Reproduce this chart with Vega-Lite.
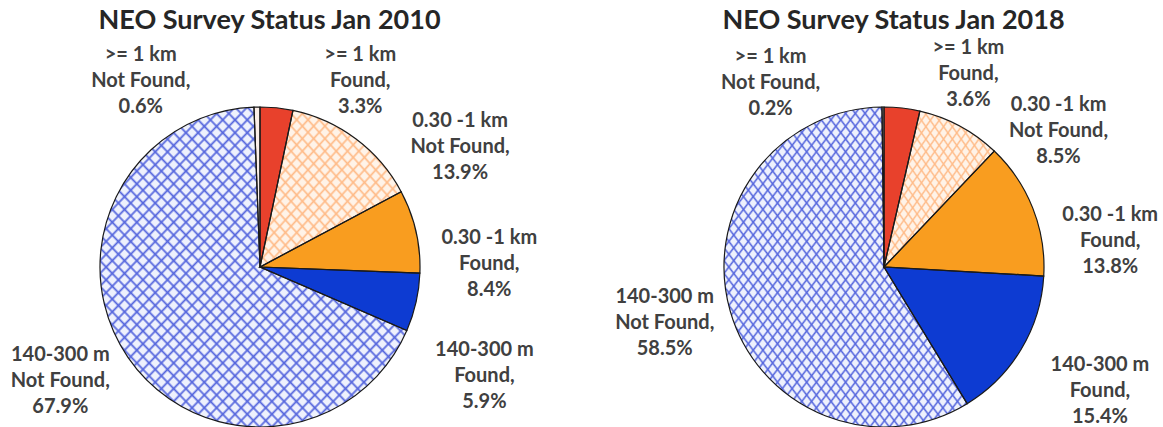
{
  "$schema": "https://vega.github.io/schema/vega-lite/v6.json",
  "width": 1134,
  "height": 462,
  "padding": {"top": 6, "left": 5, "right": 5, "bottom": 5},
  "background": "white",
  "config": {
    "view": {"stroke": null},
    "text": {"font": "Lato", "fontSize": 20, "fontWeight": "bold", "color": "#404040", "lineBreak": "\n", "lineHeight": 26, "align": "center", "baseline": "middle"}
  },
  "data": {
    "values": [
      {"chart": "NEO Survey Status Jan 2010", "year": 2010, "size": ">= 1 km", "status": "Found", "pct": 3.3, "order": 1},
      {"chart": "NEO Survey Status Jan 2010", "year": 2010, "size": "0.30 -1 km", "status": "Not Found", "pct": 13.9, "order": 2},
      {"chart": "NEO Survey Status Jan 2010", "year": 2010, "size": "0.30 -1 km", "status": "Found", "pct": 8.4, "order": 3},
      {"chart": "NEO Survey Status Jan 2010", "year": 2010, "size": "140-300 m", "status": "Found", "pct": 5.9, "order": 4},
      {"chart": "NEO Survey Status Jan 2010", "year": 2010, "size": "140-300 m", "status": "Not Found", "pct": 67.9, "order": 5},
      {"chart": "NEO Survey Status Jan 2010", "year": 2010, "size": ">= 1 km", "status": "Not Found", "pct": 0.6, "order": 6},
      {"chart": "NEO Survey Status Jan 2018", "year": 2018, "size": ">= 1 km", "status": "Found", "pct": 3.6, "order": 1},
      {"chart": "NEO Survey Status Jan 2018", "year": 2018, "size": "0.30 -1 km", "status": "Not Found", "pct": 8.5, "order": 2},
      {"chart": "NEO Survey Status Jan 2018", "year": 2018, "size": "0.30 -1 km", "status": "Found", "pct": 13.8, "order": 3},
      {"chart": "NEO Survey Status Jan 2018", "year": 2018, "size": "140-300 m", "status": "Found", "pct": 15.4, "order": 4},
      {"chart": "NEO Survey Status Jan 2018", "year": 2018, "size": "140-300 m", "status": "Not Found", "pct": 58.5, "order": 5},
      {"chart": "NEO Survey Status Jan 2018", "year": 2018, "size": ">= 1 km", "status": "Not Found", "pct": 0.2, "order": 6}
    ]
  },
  "transform": [
    {"stack": "pct", "groupby": ["year"], "sort": [{"field": "order", "order": "ascending"}], "as": ["start", "end"]},
    {"calculate": "(datum.start + datum.end) / 2", "as": "mid"},
    {"calculate": "datum.size + ' ' + datum.status", "as": "key"},
    {"calculate": "datum.size + '\\n' + datum.status + ',\\n' + format(datum.pct, '.1f') + '%'", "as": "label"}
  ],
  "encoding": {
    "x": {
      "field": "chart", "type": "nominal", "sort": null,
      "scale": {"type": "point", "padding": 0.40865},
      "axis": {"orient": "top", "title": null, "domain": false, "ticks": false, "tickSize": 0, "grid": false, "labelPadding": 2, "labelFontSize": 27, "labelFont": "Lato", "labelFontWeight": "bold", "labelColor": "#262626", "labelAngle": 0, "labelLimit": 1000, "labelOffset": 9}
    }
  },
  "layer": [
    {
      "mark": {"type": "arc", "outerRadius": 160},
      "encoding": {
        "theta": {"field": "start", "type": "quantitative", "stack": null, "scale": {"domain": [0, 100]}},
        "theta2": {"field": "end"},
        "color": {"field": "key", "type": "nominal", "legend": null,
          "scale": {
            "domain": [">= 1 km Found", "0.30 -1 km Not Found", "0.30 -1 km Found", "140-300 m Found", "140-300 m Not Found", ">= 1 km Not Found"],
            "range": ["#e8412c", "#fff3e8", "#f99d1f", "#0d3bd2", "#eef1fd", "#fbeee8"]
          }
        }
      }
    },
    {
      "transform": [{"filter": "datum.key == '140-300 m Not Found'"}],
      "mark": {"type": "arc", "outerRadius": 160, "fill": {"gradient": "linear", "x1": 0, "y1": 0, "x2": 1, "y2": 1, "stops": [
        {"offset":0,"color":"#56d"},{"offset":0.004,"color":"#56d0"},{"offset":0.016,"color":"#56d0"},
        {"offset":0.02,"color":"#56d"},{"offset":0.024,"color":"#56d0"},{"offset":0.036,"color":"#56d0"},
        {"offset":0.04,"color":"#56d"},{"offset":0.044,"color":"#56d0"},{"offset":0.056,"color":"#56d0"},
        {"offset":0.06,"color":"#56d"},{"offset":0.064,"color":"#56d0"},{"offset":0.076,"color":"#56d0"},
        {"offset":0.08,"color":"#56d"},{"offset":0.084,"color":"#56d0"},{"offset":0.096,"color":"#56d0"},
        {"offset":0.1,"color":"#56d"},{"offset":0.104,"color":"#56d0"},{"offset":0.116,"color":"#56d0"},
        {"offset":0.12,"color":"#56d"},{"offset":0.124,"color":"#56d0"},{"offset":0.136,"color":"#56d0"},
        {"offset":0.14,"color":"#56d"},{"offset":0.144,"color":"#56d0"},{"offset":0.156,"color":"#56d0"},
        {"offset":0.16,"color":"#56d"},{"offset":0.164,"color":"#56d0"},{"offset":0.176,"color":"#56d0"},
        {"offset":0.18,"color":"#56d"},{"offset":0.184,"color":"#56d0"},{"offset":0.196,"color":"#56d0"},
        {"offset":0.2,"color":"#56d"},{"offset":0.204,"color":"#56d0"},{"offset":0.216,"color":"#56d0"},
        {"offset":0.22,"color":"#56d"},{"offset":0.224,"color":"#56d0"},{"offset":0.236,"color":"#56d0"},
        {"offset":0.24,"color":"#56d"},{"offset":0.244,"color":"#56d0"},{"offset":0.256,"color":"#56d0"},
        {"offset":0.26,"color":"#56d"},{"offset":0.264,"color":"#56d0"},{"offset":0.276,"color":"#56d0"},
        {"offset":0.28,"color":"#56d"},{"offset":0.284,"color":"#56d0"},{"offset":0.296,"color":"#56d0"},
        {"offset":0.3,"color":"#56d"},{"offset":0.304,"color":"#56d0"},{"offset":0.316,"color":"#56d0"},
        {"offset":0.32,"color":"#56d"},{"offset":0.324,"color":"#56d0"},{"offset":0.336,"color":"#56d0"},
        {"offset":0.34,"color":"#56d"},{"offset":0.344,"color":"#56d0"},{"offset":0.356,"color":"#56d0"},
        {"offset":0.36,"color":"#56d"},{"offset":0.364,"color":"#56d0"},{"offset":0.376,"color":"#56d0"},
        {"offset":0.38,"color":"#56d"},{"offset":0.384,"color":"#56d0"},{"offset":0.396,"color":"#56d0"},
        {"offset":0.4,"color":"#56d"},{"offset":0.404,"color":"#56d0"},{"offset":0.416,"color":"#56d0"},
        {"offset":0.42,"color":"#56d"},{"offset":0.424,"color":"#56d0"},{"offset":0.436,"color":"#56d0"},
        {"offset":0.44,"color":"#56d"},{"offset":0.444,"color":"#56d0"},{"offset":0.456,"color":"#56d0"},
        {"offset":0.46,"color":"#56d"},{"offset":0.464,"color":"#56d0"},{"offset":0.476,"color":"#56d0"},
        {"offset":0.48,"color":"#56d"},{"offset":0.484,"color":"#56d0"},{"offset":0.496,"color":"#56d0"},
        {"offset":0.5,"color":"#56d"},{"offset":0.504,"color":"#56d0"},{"offset":0.516,"color":"#56d0"},
        {"offset":0.52,"color":"#56d"},{"offset":0.524,"color":"#56d0"},{"offset":0.536,"color":"#56d0"},
        {"offset":0.54,"color":"#56d"},{"offset":0.544,"color":"#56d0"},{"offset":0.556,"color":"#56d0"},
        {"offset":0.56,"color":"#56d"},{"offset":0.564,"color":"#56d0"},{"offset":0.576,"color":"#56d0"},
        {"offset":0.58,"color":"#56d"},{"offset":0.584,"color":"#56d0"},{"offset":0.596,"color":"#56d0"},
        {"offset":0.6,"color":"#56d"},{"offset":0.604,"color":"#56d0"},{"offset":0.616,"color":"#56d0"},
        {"offset":0.62,"color":"#56d"},{"offset":0.624,"color":"#56d0"},{"offset":0.636,"color":"#56d0"},
        {"offset":0.64,"color":"#56d"},{"offset":0.644,"color":"#56d0"},{"offset":0.656,"color":"#56d0"},
        {"offset":0.66,"color":"#56d"},{"offset":0.664,"color":"#56d0"},{"offset":0.676,"color":"#56d0"},
        {"offset":0.68,"color":"#56d"},{"offset":0.684,"color":"#56d0"},{"offset":0.696,"color":"#56d0"},
        {"offset":0.7,"color":"#56d"},{"offset":0.704,"color":"#56d0"},{"offset":0.716,"color":"#56d0"},
        {"offset":0.72,"color":"#56d"},{"offset":0.724,"color":"#56d0"},{"offset":0.736,"color":"#56d0"},
        {"offset":0.74,"color":"#56d"},{"offset":0.744,"color":"#56d0"},{"offset":0.756,"color":"#56d0"},
        {"offset":0.76,"color":"#56d"},{"offset":0.764,"color":"#56d0"},{"offset":0.776,"color":"#56d0"},
        {"offset":0.78,"color":"#56d"},{"offset":0.784,"color":"#56d0"},{"offset":0.796,"color":"#56d0"},
        {"offset":0.8,"color":"#56d"},{"offset":0.804,"color":"#56d0"},{"offset":0.816,"color":"#56d0"},
        {"offset":0.82,"color":"#56d"},{"offset":0.824,"color":"#56d0"},{"offset":0.836,"color":"#56d0"},
        {"offset":0.84,"color":"#56d"},{"offset":0.844,"color":"#56d0"},{"offset":0.856,"color":"#56d0"},
        {"offset":0.86,"color":"#56d"},{"offset":0.864,"color":"#56d0"},{"offset":0.876,"color":"#56d0"},
        {"offset":0.88,"color":"#56d"},{"offset":0.884,"color":"#56d0"},{"offset":0.896,"color":"#56d0"},
        {"offset":0.9,"color":"#56d"},{"offset":0.904,"color":"#56d0"},{"offset":0.916,"color":"#56d0"},
        {"offset":0.92,"color":"#56d"},{"offset":0.924,"color":"#56d0"},{"offset":0.936,"color":"#56d0"},
        {"offset":0.94,"color":"#56d"},{"offset":0.944,"color":"#56d0"},{"offset":0.956,"color":"#56d0"},
        {"offset":0.96,"color":"#56d"},{"offset":0.964,"color":"#56d0"},{"offset":0.976,"color":"#56d0"},
        {"offset":0.98,"color":"#56d"},{"offset":0.984,"color":"#56d0"},{"offset":0.996,"color":"#56d0"},
        {"offset":1,"color":"#56d"}]}},
      "encoding": {
        "theta": {"field": "start", "type": "quantitative", "stack": null, "scale": {"domain": [0, 100]}},
        "theta2": {"field": "end"}
      }
    },
    {
      "transform": [{"filter": "datum.key == '140-300 m Not Found'"}],
      "mark": {"type": "arc", "outerRadius": 160, "fill": {"gradient": "linear", "x1": 1, "y1": 0, "x2": 0, "y2": 1, "stops": [
        {"offset":0,"color":"#56d"},{"offset":0.004,"color":"#56d0"},{"offset":0.016,"color":"#56d0"},
        {"offset":0.02,"color":"#56d"},{"offset":0.024,"color":"#56d0"},{"offset":0.036,"color":"#56d0"},
        {"offset":0.04,"color":"#56d"},{"offset":0.044,"color":"#56d0"},{"offset":0.056,"color":"#56d0"},
        {"offset":0.06,"color":"#56d"},{"offset":0.064,"color":"#56d0"},{"offset":0.076,"color":"#56d0"},
        {"offset":0.08,"color":"#56d"},{"offset":0.084,"color":"#56d0"},{"offset":0.096,"color":"#56d0"},
        {"offset":0.1,"color":"#56d"},{"offset":0.104,"color":"#56d0"},{"offset":0.116,"color":"#56d0"},
        {"offset":0.12,"color":"#56d"},{"offset":0.124,"color":"#56d0"},{"offset":0.136,"color":"#56d0"},
        {"offset":0.14,"color":"#56d"},{"offset":0.144,"color":"#56d0"},{"offset":0.156,"color":"#56d0"},
        {"offset":0.16,"color":"#56d"},{"offset":0.164,"color":"#56d0"},{"offset":0.176,"color":"#56d0"},
        {"offset":0.18,"color":"#56d"},{"offset":0.184,"color":"#56d0"},{"offset":0.196,"color":"#56d0"},
        {"offset":0.2,"color":"#56d"},{"offset":0.204,"color":"#56d0"},{"offset":0.216,"color":"#56d0"},
        {"offset":0.22,"color":"#56d"},{"offset":0.224,"color":"#56d0"},{"offset":0.236,"color":"#56d0"},
        {"offset":0.24,"color":"#56d"},{"offset":0.244,"color":"#56d0"},{"offset":0.256,"color":"#56d0"},
        {"offset":0.26,"color":"#56d"},{"offset":0.264,"color":"#56d0"},{"offset":0.276,"color":"#56d0"},
        {"offset":0.28,"color":"#56d"},{"offset":0.284,"color":"#56d0"},{"offset":0.296,"color":"#56d0"},
        {"offset":0.3,"color":"#56d"},{"offset":0.304,"color":"#56d0"},{"offset":0.316,"color":"#56d0"},
        {"offset":0.32,"color":"#56d"},{"offset":0.324,"color":"#56d0"},{"offset":0.336,"color":"#56d0"},
        {"offset":0.34,"color":"#56d"},{"offset":0.344,"color":"#56d0"},{"offset":0.356,"color":"#56d0"},
        {"offset":0.36,"color":"#56d"},{"offset":0.364,"color":"#56d0"},{"offset":0.376,"color":"#56d0"},
        {"offset":0.38,"color":"#56d"},{"offset":0.384,"color":"#56d0"},{"offset":0.396,"color":"#56d0"},
        {"offset":0.4,"color":"#56d"},{"offset":0.404,"color":"#56d0"},{"offset":0.416,"color":"#56d0"},
        {"offset":0.42,"color":"#56d"},{"offset":0.424,"color":"#56d0"},{"offset":0.436,"color":"#56d0"},
        {"offset":0.44,"color":"#56d"},{"offset":0.444,"color":"#56d0"},{"offset":0.456,"color":"#56d0"},
        {"offset":0.46,"color":"#56d"},{"offset":0.464,"color":"#56d0"},{"offset":0.476,"color":"#56d0"},
        {"offset":0.48,"color":"#56d"},{"offset":0.484,"color":"#56d0"},{"offset":0.496,"color":"#56d0"},
        {"offset":0.5,"color":"#56d"},{"offset":0.504,"color":"#56d0"},{"offset":0.516,"color":"#56d0"},
        {"offset":0.52,"color":"#56d"},{"offset":0.524,"color":"#56d0"},{"offset":0.536,"color":"#56d0"},
        {"offset":0.54,"color":"#56d"},{"offset":0.544,"color":"#56d0"},{"offset":0.556,"color":"#56d0"},
        {"offset":0.56,"color":"#56d"},{"offset":0.564,"color":"#56d0"},{"offset":0.576,"color":"#56d0"},
        {"offset":0.58,"color":"#56d"},{"offset":0.584,"color":"#56d0"},{"offset":0.596,"color":"#56d0"},
        {"offset":0.6,"color":"#56d"},{"offset":0.604,"color":"#56d0"},{"offset":0.616,"color":"#56d0"},
        {"offset":0.62,"color":"#56d"},{"offset":0.624,"color":"#56d0"},{"offset":0.636,"color":"#56d0"},
        {"offset":0.64,"color":"#56d"},{"offset":0.644,"color":"#56d0"},{"offset":0.656,"color":"#56d0"},
        {"offset":0.66,"color":"#56d"},{"offset":0.664,"color":"#56d0"},{"offset":0.676,"color":"#56d0"},
        {"offset":0.68,"color":"#56d"},{"offset":0.684,"color":"#56d0"},{"offset":0.696,"color":"#56d0"},
        {"offset":0.7,"color":"#56d"},{"offset":0.704,"color":"#56d0"},{"offset":0.716,"color":"#56d0"},
        {"offset":0.72,"color":"#56d"},{"offset":0.724,"color":"#56d0"},{"offset":0.736,"color":"#56d0"},
        {"offset":0.74,"color":"#56d"},{"offset":0.744,"color":"#56d0"},{"offset":0.756,"color":"#56d0"},
        {"offset":0.76,"color":"#56d"},{"offset":0.764,"color":"#56d0"},{"offset":0.776,"color":"#56d0"},
        {"offset":0.78,"color":"#56d"},{"offset":0.784,"color":"#56d0"},{"offset":0.796,"color":"#56d0"},
        {"offset":0.8,"color":"#56d"},{"offset":0.804,"color":"#56d0"},{"offset":0.816,"color":"#56d0"},
        {"offset":0.82,"color":"#56d"},{"offset":0.824,"color":"#56d0"},{"offset":0.836,"color":"#56d0"},
        {"offset":0.84,"color":"#56d"},{"offset":0.844,"color":"#56d0"},{"offset":0.856,"color":"#56d0"},
        {"offset":0.86,"color":"#56d"},{"offset":0.864,"color":"#56d0"},{"offset":0.876,"color":"#56d0"},
        {"offset":0.88,"color":"#56d"},{"offset":0.884,"color":"#56d0"},{"offset":0.896,"color":"#56d0"},
        {"offset":0.9,"color":"#56d"},{"offset":0.904,"color":"#56d0"},{"offset":0.916,"color":"#56d0"},
        {"offset":0.92,"color":"#56d"},{"offset":0.924,"color":"#56d0"},{"offset":0.936,"color":"#56d0"},
        {"offset":0.94,"color":"#56d"},{"offset":0.944,"color":"#56d0"},{"offset":0.956,"color":"#56d0"},
        {"offset":0.96,"color":"#56d"},{"offset":0.964,"color":"#56d0"},{"offset":0.976,"color":"#56d0"},
        {"offset":0.98,"color":"#56d"},{"offset":0.984,"color":"#56d0"},{"offset":0.996,"color":"#56d0"},
        {"offset":1,"color":"#56d"}]}},
      "encoding": {
        "theta": {"field": "start", "type": "quantitative", "stack": null, "scale": {"domain": [0, 100]}},
        "theta2": {"field": "end"}
      }
    },
    {
      "transform": [{"filter": "datum.key == '0.30 -1 km Not Found'"}],
      "mark": {"type": "arc", "outerRadius": 160, "fill": {"gradient": "linear", "x1": 0, "y1": 0, "x2": 1, "y2": 1, "stops": [
        {"offset":0,"color":"#fb8"},{"offset":0.008,"color":"#fb80"},{"offset":0.032,"color":"#fb80"},
        {"offset":0.04,"color":"#fb8"},{"offset":0.048,"color":"#fb80"},{"offset":0.072,"color":"#fb80"},
        {"offset":0.08,"color":"#fb8"},{"offset":0.088,"color":"#fb80"},{"offset":0.112,"color":"#fb80"},
        {"offset":0.12,"color":"#fb8"},{"offset":0.128,"color":"#fb80"},{"offset":0.152,"color":"#fb80"},
        {"offset":0.16,"color":"#fb8"},{"offset":0.168,"color":"#fb80"},{"offset":0.192,"color":"#fb80"},
        {"offset":0.2,"color":"#fb8"},{"offset":0.208,"color":"#fb80"},{"offset":0.232,"color":"#fb80"},
        {"offset":0.24,"color":"#fb8"},{"offset":0.248,"color":"#fb80"},{"offset":0.272,"color":"#fb80"},
        {"offset":0.28,"color":"#fb8"},{"offset":0.288,"color":"#fb80"},{"offset":0.312,"color":"#fb80"},
        {"offset":0.32,"color":"#fb8"},{"offset":0.328,"color":"#fb80"},{"offset":0.352,"color":"#fb80"},
        {"offset":0.36,"color":"#fb8"},{"offset":0.368,"color":"#fb80"},{"offset":0.392,"color":"#fb80"},
        {"offset":0.4,"color":"#fb8"},{"offset":0.408,"color":"#fb80"},{"offset":0.432,"color":"#fb80"},
        {"offset":0.44,"color":"#fb8"},{"offset":0.448,"color":"#fb80"},{"offset":0.472,"color":"#fb80"},
        {"offset":0.48,"color":"#fb8"},{"offset":0.488,"color":"#fb80"},{"offset":0.512,"color":"#fb80"},
        {"offset":0.52,"color":"#fb8"},{"offset":0.528,"color":"#fb80"},{"offset":0.552,"color":"#fb80"},
        {"offset":0.56,"color":"#fb8"},{"offset":0.568,"color":"#fb80"},{"offset":0.592,"color":"#fb80"},
        {"offset":0.6,"color":"#fb8"},{"offset":0.608,"color":"#fb80"},{"offset":0.632,"color":"#fb80"},
        {"offset":0.64,"color":"#fb8"},{"offset":0.648,"color":"#fb80"},{"offset":0.672,"color":"#fb80"},
        {"offset":0.68,"color":"#fb8"},{"offset":0.688,"color":"#fb80"},{"offset":0.712,"color":"#fb80"},
        {"offset":0.72,"color":"#fb8"},{"offset":0.728,"color":"#fb80"},{"offset":0.752,"color":"#fb80"},
        {"offset":0.76,"color":"#fb8"},{"offset":0.768,"color":"#fb80"},{"offset":0.792,"color":"#fb80"},
        {"offset":0.8,"color":"#fb8"},{"offset":0.808,"color":"#fb80"},{"offset":0.832,"color":"#fb80"},
        {"offset":0.84,"color":"#fb8"},{"offset":0.848,"color":"#fb80"},{"offset":0.872,"color":"#fb80"},
        {"offset":0.88,"color":"#fb8"},{"offset":0.888,"color":"#fb80"},{"offset":0.912,"color":"#fb80"},
        {"offset":0.92,"color":"#fb8"},{"offset":0.928,"color":"#fb80"},{"offset":0.952,"color":"#fb80"},
        {"offset":0.96,"color":"#fb8"},{"offset":0.968,"color":"#fb80"},{"offset":0.992,"color":"#fb80"},
        {"offset":1,"color":"#fb8"}]}},
      "encoding": {
        "theta": {"field": "start", "type": "quantitative", "stack": null, "scale": {"domain": [0, 100]}},
        "theta2": {"field": "end"}
      }
    },
    {
      "transform": [{"filter": "datum.key == '0.30 -1 km Not Found'"}],
      "mark": {"type": "arc", "outerRadius": 160, "fill": {"gradient": "linear", "x1": 1, "y1": 0, "x2": 0, "y2": 1, "stops": [
        {"offset":0,"color":"#fb8"},{"offset":0.008,"color":"#fb80"},{"offset":0.032,"color":"#fb80"},
        {"offset":0.04,"color":"#fb8"},{"offset":0.048,"color":"#fb80"},{"offset":0.072,"color":"#fb80"},
        {"offset":0.08,"color":"#fb8"},{"offset":0.088,"color":"#fb80"},{"offset":0.112,"color":"#fb80"},
        {"offset":0.12,"color":"#fb8"},{"offset":0.128,"color":"#fb80"},{"offset":0.152,"color":"#fb80"},
        {"offset":0.16,"color":"#fb8"},{"offset":0.168,"color":"#fb80"},{"offset":0.192,"color":"#fb80"},
        {"offset":0.2,"color":"#fb8"},{"offset":0.208,"color":"#fb80"},{"offset":0.232,"color":"#fb80"},
        {"offset":0.24,"color":"#fb8"},{"offset":0.248,"color":"#fb80"},{"offset":0.272,"color":"#fb80"},
        {"offset":0.28,"color":"#fb8"},{"offset":0.288,"color":"#fb80"},{"offset":0.312,"color":"#fb80"},
        {"offset":0.32,"color":"#fb8"},{"offset":0.328,"color":"#fb80"},{"offset":0.352,"color":"#fb80"},
        {"offset":0.36,"color":"#fb8"},{"offset":0.368,"color":"#fb80"},{"offset":0.392,"color":"#fb80"},
        {"offset":0.4,"color":"#fb8"},{"offset":0.408,"color":"#fb80"},{"offset":0.432,"color":"#fb80"},
        {"offset":0.44,"color":"#fb8"},{"offset":0.448,"color":"#fb80"},{"offset":0.472,"color":"#fb80"},
        {"offset":0.48,"color":"#fb8"},{"offset":0.488,"color":"#fb80"},{"offset":0.512,"color":"#fb80"},
        {"offset":0.52,"color":"#fb8"},{"offset":0.528,"color":"#fb80"},{"offset":0.552,"color":"#fb80"},
        {"offset":0.56,"color":"#fb8"},{"offset":0.568,"color":"#fb80"},{"offset":0.592,"color":"#fb80"},
        {"offset":0.6,"color":"#fb8"},{"offset":0.608,"color":"#fb80"},{"offset":0.632,"color":"#fb80"},
        {"offset":0.64,"color":"#fb8"},{"offset":0.648,"color":"#fb80"},{"offset":0.672,"color":"#fb80"},
        {"offset":0.68,"color":"#fb8"},{"offset":0.688,"color":"#fb80"},{"offset":0.712,"color":"#fb80"},
        {"offset":0.72,"color":"#fb8"},{"offset":0.728,"color":"#fb80"},{"offset":0.752,"color":"#fb80"},
        {"offset":0.76,"color":"#fb8"},{"offset":0.768,"color":"#fb80"},{"offset":0.792,"color":"#fb80"},
        {"offset":0.8,"color":"#fb8"},{"offset":0.808,"color":"#fb80"},{"offset":0.832,"color":"#fb80"},
        {"offset":0.84,"color":"#fb8"},{"offset":0.848,"color":"#fb80"},{"offset":0.872,"color":"#fb80"},
        {"offset":0.88,"color":"#fb8"},{"offset":0.888,"color":"#fb80"},{"offset":0.912,"color":"#fb80"},
        {"offset":0.92,"color":"#fb8"},{"offset":0.928,"color":"#fb80"},{"offset":0.952,"color":"#fb80"},
        {"offset":0.96,"color":"#fb8"},{"offset":0.968,"color":"#fb80"},{"offset":0.992,"color":"#fb80"},
        {"offset":1,"color":"#fb8"}]}},
      "encoding": {
        "theta": {"field": "start", "type": "quantitative", "stack": null, "scale": {"domain": [0, 100]}},
        "theta2": {"field": "end"}
      }
    },
    {
      "mark": {"type": "arc", "outerRadius": 160, "fillOpacity": 0, "stroke": "#1a1a1a", "strokeWidth": 1.2},
      "encoding": {
        "theta": {"field": "start", "type": "quantitative", "stack": null, "scale": {"domain": [0, 100]}},
        "theta2": {"field": "end"}
      }
    },
    {"transform": [{"filter": "datum.year == 2010 && datum.key == '>= 1 km Found'"}], "mark": {"type": "text", "align": "center", "radius": 225, "dx": 77, "dy": 12}, "encoding": {"theta": {"field": "mid", "type": "quantitative", "stack": null, "scale": {"domain": [0, 100]}}, "text": {"field": "label"}}},
    {"transform": [{"filter": "datum.year == 2010 && datum.key == '0.30 -1 km Not Found'"}], "mark": {"type": "text", "align": "center", "radius": 225, "dx": 65, "dy": 34}, "encoding": {"theta": {"field": "mid", "type": "quantitative", "stack": null, "scale": {"domain": [0, 100]}}, "text": {"field": "label"}}},
    {"transform": [{"filter": "datum.year == 2010 && datum.key == '0.30 -1 km Found'"}], "mark": {"type": "text", "align": "center", "radius": 225, "dx": 10, "dy": 21}, "encoding": {"theta": {"field": "mid", "type": "quantitative", "stack": null, "scale": {"domain": [0, 100]}}, "text": {"field": "label"}}},
    {"transform": [{"filter": "datum.year == 2010 && datum.key == '140-300 m Found'"}], "mark": {"type": "text", "align": "center", "radius": 225, "dx": 5, "dy": 33}, "encoding": {"theta": {"field": "mid", "type": "quantitative", "stack": null, "scale": {"domain": [0, 100]}}, "text": {"field": "label"}}},
    {"transform": [{"filter": "datum.year == 2010 && datum.key == '140-300 m Not Found'"}], "mark": {"type": "text", "align": "center", "radius": 225, "dx": -14, "dy": -39}, "encoding": {"theta": {"field": "mid", "type": "quantitative", "stack": null, "scale": {"domain": [0, 100]}}, "text": {"field": "label"}}},
    {"transform": [{"filter": "datum.year == 2010 && datum.key == '>= 1 km Not Found'"}], "mark": {"type": "text", "align": "center", "radius": 225, "dx": -115, "dy": 13}, "encoding": {"theta": {"field": "mid", "type": "quantitative", "stack": null, "scale": {"domain": [0, 100]}}, "text": {"field": "label"}}},
    {"transform": [{"filter": "datum.year == 2018 && datum.key == '>= 1 km Found'"}], "mark": {"type": "text", "align": "center", "radius": 225, "dx": 59, "dy": 5}, "encoding": {"theta": {"field": "mid", "type": "quantitative", "stack": null, "scale": {"domain": [0, 100]}}, "text": {"field": "label"}}},
    {"transform": [{"filter": "datum.year == 2018 && datum.key == '0.30 -1 km Not Found'"}], "mark": {"type": "text", "align": "center", "radius": 225, "dx": 68, "dy": 36}, "encoding": {"theta": {"field": "mid", "type": "quantitative", "stack": null, "scale": {"domain": [0, 100]}}, "text": {"field": "label"}}},
    {"transform": [{"filter": "datum.year == 2018 && datum.key == '0.30 -1 km Found'"}], "mark": {"type": "text", "align": "center", "radius": 225, "dx": 17, "dy": 31}, "encoding": {"theta": {"field": "mid", "type": "quantitative", "stack": null, "scale": {"domain": [0, 100]}}, "text": {"field": "label"}}},
    {"transform": [{"filter": "datum.year == 2018 && datum.key == '140-300 m Found'"}], "mark": {"type": "text", "align": "center", "radius": 225, "dx": 23, "dy": -18}, "encoding": {"theta": {"field": "mid", "type": "quantitative", "stack": null, "scale": {"domain": [0, 100]}}, "text": {"field": "label"}}},
    {"transform": [{"filter": "datum.year == 2018 && datum.key == '140-300 m Not Found'"}], "mark": {"type": "text", "align": "center", "radius": 225, "dx": -3, "dy": -32}, "encoding": {"theta": {"field": "mid", "type": "quantitative", "stack": null, "scale": {"domain": [0, 100]}}, "text": {"field": "label"}}},
    {"transform": [{"filter": "datum.year == 2018 && datum.key == '>= 1 km Not Found'"}], "mark": {"type": "text", "align": "center", "radius": 225, "dx": -112, "dy": 15}, "encoding": {"theta": {"field": "mid", "type": "quantitative", "stack": null, "scale": {"domain": [0, 100]}}, "text": {"field": "label"}}}
  ]
}
